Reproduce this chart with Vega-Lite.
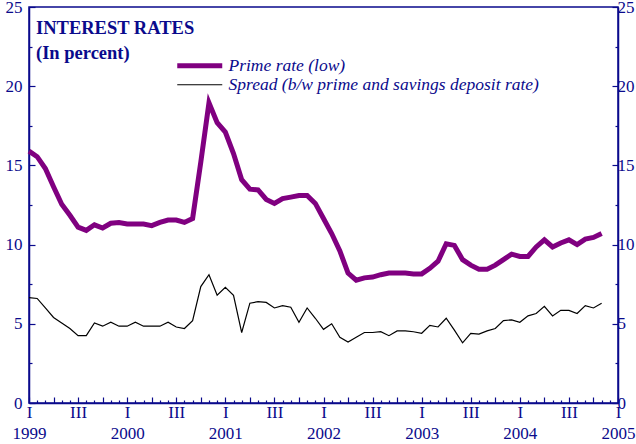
{
  "$schema": "https://vega.github.io/schema/vega-lite/v6.json",
  "width": 589,
  "height": 396,
  "autosize": "none",
  "padding": {"left": 29, "top": 7, "right": 18, "bottom": 41},
  "background": "white",
  "config": {
    "view": {"stroke": "#0a0a8c", "strokeWidth": 1.5},
    "font": "Liberation Serif",
    "axis": {
      "domainColor": "#0a0a8c",
      "domainWidth": 1.5,
      "tickColor": "#0a0a8c",
      "tickWidth": 1.2,
      "labelColor": "#0a0a8c",
      "labelFont": "Liberation Serif",
      "labelFontSize": 17,
      "grid": false
    }
  },
  "title": {
    "text": ["INTEREST RATES", "(In percent)"],
    "anchor": "start",
    "frame": "group",
    "orient": "top",
    "baseline": "top",
    "offset": 0,
    "dx": 7,
    "dy": 64,
    "lineHeight": 25,
    "font": "Liberation Serif",
    "fontSize": 18.5,
    "fontWeight": "bold",
    "color": "#0a0a8c"
  },
  "data": {
    "values": [
      {"month": 0, "series": "Prime rate (low)", "rate": 15.9},
      {"month": 1, "series": "Prime rate (low)", "rate": 15.55},
      {"month": 2, "series": "Prime rate (low)", "rate": 14.8},
      {"month": 3, "series": "Prime rate (low)", "rate": 13.65},
      {"month": 4, "series": "Prime rate (low)", "rate": 12.55},
      {"month": 5, "series": "Prime rate (low)", "rate": 11.85},
      {"month": 6, "series": "Prime rate (low)", "rate": 11.1},
      {"month": 7, "series": "Prime rate (low)", "rate": 10.9},
      {"month": 8, "series": "Prime rate (low)", "rate": 11.25},
      {"month": 9, "series": "Prime rate (low)", "rate": 11.05},
      {"month": 10, "series": "Prime rate (low)", "rate": 11.35},
      {"month": 11, "series": "Prime rate (low)", "rate": 11.4},
      {"month": 12, "series": "Prime rate (low)", "rate": 11.3},
      {"month": 13, "series": "Prime rate (low)", "rate": 11.3},
      {"month": 14, "series": "Prime rate (low)", "rate": 11.3},
      {"month": 15, "series": "Prime rate (low)", "rate": 11.2},
      {"month": 16, "series": "Prime rate (low)", "rate": 11.4},
      {"month": 17, "series": "Prime rate (low)", "rate": 11.55},
      {"month": 18, "series": "Prime rate (low)", "rate": 11.55},
      {"month": 19, "series": "Prime rate (low)", "rate": 11.4},
      {"month": 20, "series": "Prime rate (low)", "rate": 11.65},
      {"month": 21, "series": "Prime rate (low)", "rate": 15.2},
      {"month": 22, "series": "Prime rate (low)", "rate": 18.95},
      {"month": 23, "series": "Prime rate (low)", "rate": 17.7},
      {"month": 24, "series": "Prime rate (low)", "rate": 17.1},
      {"month": 25, "series": "Prime rate (low)", "rate": 15.75},
      {"month": 26, "series": "Prime rate (low)", "rate": 14.1},
      {"month": 27, "series": "Prime rate (low)", "rate": 13.5},
      {"month": 28, "series": "Prime rate (low)", "rate": 13.45},
      {"month": 29, "series": "Prime rate (low)", "rate": 12.85},
      {"month": 30, "series": "Prime rate (low)", "rate": 12.6},
      {"month": 31, "series": "Prime rate (low)", "rate": 12.9},
      {"month": 32, "series": "Prime rate (low)", "rate": 13.0},
      {"month": 33, "series": "Prime rate (low)", "rate": 13.1},
      {"month": 34, "series": "Prime rate (low)", "rate": 13.1},
      {"month": 35, "series": "Prime rate (low)", "rate": 12.6},
      {"month": 36, "series": "Prime rate (low)", "rate": 11.65},
      {"month": 37, "series": "Prime rate (low)", "rate": 10.7},
      {"month": 38, "series": "Prime rate (low)", "rate": 9.6},
      {"month": 39, "series": "Prime rate (low)", "rate": 8.2},
      {"month": 40, "series": "Prime rate (low)", "rate": 7.75},
      {"month": 41, "series": "Prime rate (low)", "rate": 7.9},
      {"month": 42, "series": "Prime rate (low)", "rate": 7.95},
      {"month": 43, "series": "Prime rate (low)", "rate": 8.1},
      {"month": 44, "series": "Prime rate (low)", "rate": 8.2},
      {"month": 45, "series": "Prime rate (low)", "rate": 8.2},
      {"month": 46, "series": "Prime rate (low)", "rate": 8.2},
      {"month": 47, "series": "Prime rate (low)", "rate": 8.15},
      {"month": 48, "series": "Prime rate (low)", "rate": 8.15},
      {"month": 49, "series": "Prime rate (low)", "rate": 8.5},
      {"month": 50, "series": "Prime rate (low)", "rate": 8.95},
      {"month": 51, "series": "Prime rate (low)", "rate": 10.05},
      {"month": 52, "series": "Prime rate (low)", "rate": 9.95},
      {"month": 53, "series": "Prime rate (low)", "rate": 9.05},
      {"month": 54, "series": "Prime rate (low)", "rate": 8.7},
      {"month": 55, "series": "Prime rate (low)", "rate": 8.45},
      {"month": 56, "series": "Prime rate (low)", "rate": 8.45},
      {"month": 57, "series": "Prime rate (low)", "rate": 8.7},
      {"month": 58, "series": "Prime rate (low)", "rate": 9.05},
      {"month": 59, "series": "Prime rate (low)", "rate": 9.4},
      {"month": 60, "series": "Prime rate (low)", "rate": 9.25},
      {"month": 61, "series": "Prime rate (low)", "rate": 9.25},
      {"month": 62, "series": "Prime rate (low)", "rate": 9.85},
      {"month": 63, "series": "Prime rate (low)", "rate": 10.3},
      {"month": 64, "series": "Prime rate (low)", "rate": 9.85},
      {"month": 65, "series": "Prime rate (low)", "rate": 10.1},
      {"month": 66, "series": "Prime rate (low)", "rate": 10.3},
      {"month": 67, "series": "Prime rate (low)", "rate": 10.0},
      {"month": 68, "series": "Prime rate (low)", "rate": 10.35},
      {"month": 69, "series": "Prime rate (low)", "rate": 10.45},
      {"month": 70, "series": "Prime rate (low)", "rate": 10.7},
      {"month": 0, "series": "Spread (b/w prime and savings deposit rate)", "rate": 6.65},
      {"month": 1, "series": "Spread (b/w prime and savings deposit rate)", "rate": 6.6},
      {"month": 2, "series": "Spread (b/w prime and savings deposit rate)", "rate": 6.0},
      {"month": 3, "series": "Spread (b/w prime and savings deposit rate)", "rate": 5.4},
      {"month": 4, "series": "Spread (b/w prime and savings deposit rate)", "rate": 5.05},
      {"month": 5, "series": "Spread (b/w prime and savings deposit rate)", "rate": 4.7},
      {"month": 6, "series": "Spread (b/w prime and savings deposit rate)", "rate": 4.25},
      {"month": 7, "series": "Spread (b/w prime and savings deposit rate)", "rate": 4.25},
      {"month": 8, "series": "Spread (b/w prime and savings deposit rate)", "rate": 5.05},
      {"month": 9, "series": "Spread (b/w prime and savings deposit rate)", "rate": 4.85},
      {"month": 10, "series": "Spread (b/w prime and savings deposit rate)", "rate": 5.1},
      {"month": 11, "series": "Spread (b/w prime and savings deposit rate)", "rate": 4.85},
      {"month": 12, "series": "Spread (b/w prime and savings deposit rate)", "rate": 4.85},
      {"month": 13, "series": "Spread (b/w prime and savings deposit rate)", "rate": 5.1},
      {"month": 14, "series": "Spread (b/w prime and savings deposit rate)", "rate": 4.85},
      {"month": 15, "series": "Spread (b/w prime and savings deposit rate)", "rate": 4.85},
      {"month": 16, "series": "Spread (b/w prime and savings deposit rate)", "rate": 4.85},
      {"month": 17, "series": "Spread (b/w prime and savings deposit rate)", "rate": 5.1},
      {"month": 18, "series": "Spread (b/w prime and savings deposit rate)", "rate": 4.8},
      {"month": 19, "series": "Spread (b/w prime and savings deposit rate)", "rate": 4.7},
      {"month": 20, "series": "Spread (b/w prime and savings deposit rate)", "rate": 5.2},
      {"month": 21, "series": "Spread (b/w prime and savings deposit rate)", "rate": 7.35},
      {"month": 22, "series": "Spread (b/w prime and savings deposit rate)", "rate": 8.1},
      {"month": 23, "series": "Spread (b/w prime and savings deposit rate)", "rate": 6.8},
      {"month": 24, "series": "Spread (b/w prime and savings deposit rate)", "rate": 7.3},
      {"month": 25, "series": "Spread (b/w prime and savings deposit rate)", "rate": 6.8},
      {"month": 26, "series": "Spread (b/w prime and savings deposit rate)", "rate": 4.45},
      {"month": 27, "series": "Spread (b/w prime and savings deposit rate)", "rate": 6.3},
      {"month": 28, "series": "Spread (b/w prime and savings deposit rate)", "rate": 6.4},
      {"month": 29, "series": "Spread (b/w prime and savings deposit rate)", "rate": 6.35},
      {"month": 30, "series": "Spread (b/w prime and savings deposit rate)", "rate": 6.0},
      {"month": 31, "series": "Spread (b/w prime and savings deposit rate)", "rate": 6.15},
      {"month": 32, "series": "Spread (b/w prime and savings deposit rate)", "rate": 6.05},
      {"month": 33, "series": "Spread (b/w prime and savings deposit rate)", "rate": 5.1},
      {"month": 34, "series": "Spread (b/w prime and savings deposit rate)", "rate": 6.0},
      {"month": 35, "series": "Spread (b/w prime and savings deposit rate)", "rate": 5.35},
      {"month": 36, "series": "Spread (b/w prime and savings deposit rate)", "rate": 4.65},
      {"month": 37, "series": "Spread (b/w prime and savings deposit rate)", "rate": 5.0},
      {"month": 38, "series": "Spread (b/w prime and savings deposit rate)", "rate": 4.15},
      {"month": 39, "series": "Spread (b/w prime and savings deposit rate)", "rate": 3.85},
      {"month": 40, "series": "Spread (b/w prime and savings deposit rate)", "rate": 4.15},
      {"month": 41, "series": "Spread (b/w prime and savings deposit rate)", "rate": 4.45},
      {"month": 42, "series": "Spread (b/w prime and savings deposit rate)", "rate": 4.45},
      {"month": 43, "series": "Spread (b/w prime and savings deposit rate)", "rate": 4.5},
      {"month": 44, "series": "Spread (b/w prime and savings deposit rate)", "rate": 4.25},
      {"month": 45, "series": "Spread (b/w prime and savings deposit rate)", "rate": 4.55},
      {"month": 46, "series": "Spread (b/w prime and savings deposit rate)", "rate": 4.55},
      {"month": 47, "series": "Spread (b/w prime and savings deposit rate)", "rate": 4.5},
      {"month": 48, "series": "Spread (b/w prime and savings deposit rate)", "rate": 4.4},
      {"month": 49, "series": "Spread (b/w prime and savings deposit rate)", "rate": 4.9},
      {"month": 50, "series": "Spread (b/w prime and savings deposit rate)", "rate": 4.8},
      {"month": 51, "series": "Spread (b/w prime and savings deposit rate)", "rate": 5.35},
      {"month": 52, "series": "Spread (b/w prime and savings deposit rate)", "rate": 4.6},
      {"month": 53, "series": "Spread (b/w prime and savings deposit rate)", "rate": 3.8},
      {"month": 54, "series": "Spread (b/w prime and savings deposit rate)", "rate": 4.4},
      {"month": 55, "series": "Spread (b/w prime and savings deposit rate)", "rate": 4.35},
      {"month": 56, "series": "Spread (b/w prime and savings deposit rate)", "rate": 4.55},
      {"month": 57, "series": "Spread (b/w prime and savings deposit rate)", "rate": 4.7},
      {"month": 58, "series": "Spread (b/w prime and savings deposit rate)", "rate": 5.2},
      {"month": 59, "series": "Spread (b/w prime and savings deposit rate)", "rate": 5.25},
      {"month": 60, "series": "Spread (b/w prime and savings deposit rate)", "rate": 5.1},
      {"month": 61, "series": "Spread (b/w prime and savings deposit rate)", "rate": 5.5},
      {"month": 62, "series": "Spread (b/w prime and savings deposit rate)", "rate": 5.65},
      {"month": 63, "series": "Spread (b/w prime and savings deposit rate)", "rate": 6.1},
      {"month": 64, "series": "Spread (b/w prime and savings deposit rate)", "rate": 5.5},
      {"month": 65, "series": "Spread (b/w prime and savings deposit rate)", "rate": 5.85},
      {"month": 66, "series": "Spread (b/w prime and savings deposit rate)", "rate": 5.85},
      {"month": 67, "series": "Spread (b/w prime and savings deposit rate)", "rate": 5.65},
      {"month": 68, "series": "Spread (b/w prime and savings deposit rate)", "rate": 6.15},
      {"month": 69, "series": "Spread (b/w prime and savings deposit rate)", "rate": 6.0},
      {"month": 70, "series": "Spread (b/w prime and savings deposit rate)", "rate": 6.3}
    ]
  },
  "encoding": {
    "x": {
      "field": "month",
      "type": "quantitative",
      "scale": {"domain": [0, 72], "nice": false, "zero": false},
      "axis": {
        "title": null,
        "values": [0,1,2,3,4,5,6,7,8,9,10,11,12,13,14,15,16,17,18,19,20,21,22,23,24,25,26,27,28,29,30,31,32,33,34,35,36,37,38,39,40,41,42,43,44,45,46,47,48,49,50,51,52,53,54,55,56,57,58,59,60,61,62,63,64,65,66,67,68,69,70,71,72],
        "labelExpr": "datum.value % 12 == 0 ? ['I', '' + (1999 + datum.value / 12)] : (datum.value % 12 == 6 ? 'III' : '')",
        "tickSize": {"condition": {"test": "datum.value % 3 == 0", "value": -6}, "value": -3},
        "labelPadding": 7,
        "labelLineHeight": 21,
        "labelBaseline": "top",
        "labelAngle": 0,
        "labelOverlap": false,
        "labelFlush": false,
        "labelBound": false
      }
    },
    "color": {
      "field": "series",
      "type": "nominal",
      "scale": {
        "domain": ["Prime rate (low)", "Spread (b/w prime and savings deposit rate)"],
        "range": ["#800080", "#000000"]
      },
      "legend": {
        "title": null,
        "orient": "none",
        "legendX": 162,
        "legendY": 50,
        "padding": 0,
        "symbolType": "stroke",
        "symbolSize": 2025,
        "rowPadding": -19,
        "labelOffset": 20,
        "labelFont": "Liberation Serif",
        "labelFontStyle": "italic",
        "labelFontSize": 17.5,
        "labelColor": "#0a0a8c",
        "labelLimit": 0,
        "encode": {
          "symbols": {
            "update": {
              "strokeWidth": {"signal": "datum.value === 'Prime rate (low)' ? 5 : 1.2"}
            }
          }
        }
      }
    }
  },
  "layer": [
    {
      "transform": [{"filter": "datum.series === 'Prime rate (low)'"}],
      "mark": {"type": "line", "strokeWidth": 5, "interpolate": "linear"},
      "encoding": {
        "y": {
          "field": "rate",
          "type": "quantitative",
          "scale": {"domain": [0, 25], "nice": false},
          "axis": {
            "title": null,
            "orient": "left",
            "values": [0, 2.5, 5, 7.5, 10, 12.5, 15, 17.5, 20, 22.5, 25],
            "labelExpr": "datum.value % 5 == 0 ? datum.label : ''",
            "tickSize": {"condition": {"test": "datum.value % 5 == 0", "value": -6}, "value": -3},
            "labelPadding": 13
          }
        }
      }
    },
    {
      "transform": [{"filter": "datum.series !== 'Prime rate (low)'"}],
      "mark": {"type": "line", "strokeWidth": 1.2, "interpolate": "linear"},
      "encoding": {
        "y": {
          "field": "rate",
          "type": "quantitative",
          "scale": {"domain": [0, 25], "nice": false},
          "axis": {
            "title": null,
            "orient": "right",
            "values": [0, 2.5, 5, 7.5, 10, 12.5, 15, 17.5, 20, 22.5, 25],
            "labelExpr": "datum.value % 5 == 0 ? datum.label : ''",
            "tickSize": {"condition": {"test": "datum.value % 5 == 0", "value": -6}, "value": -3},
            "labelPadding": 5
          }
        }
      }
    }
  ],
  "resolve": {"scale": {"y": "independent"}}
}
